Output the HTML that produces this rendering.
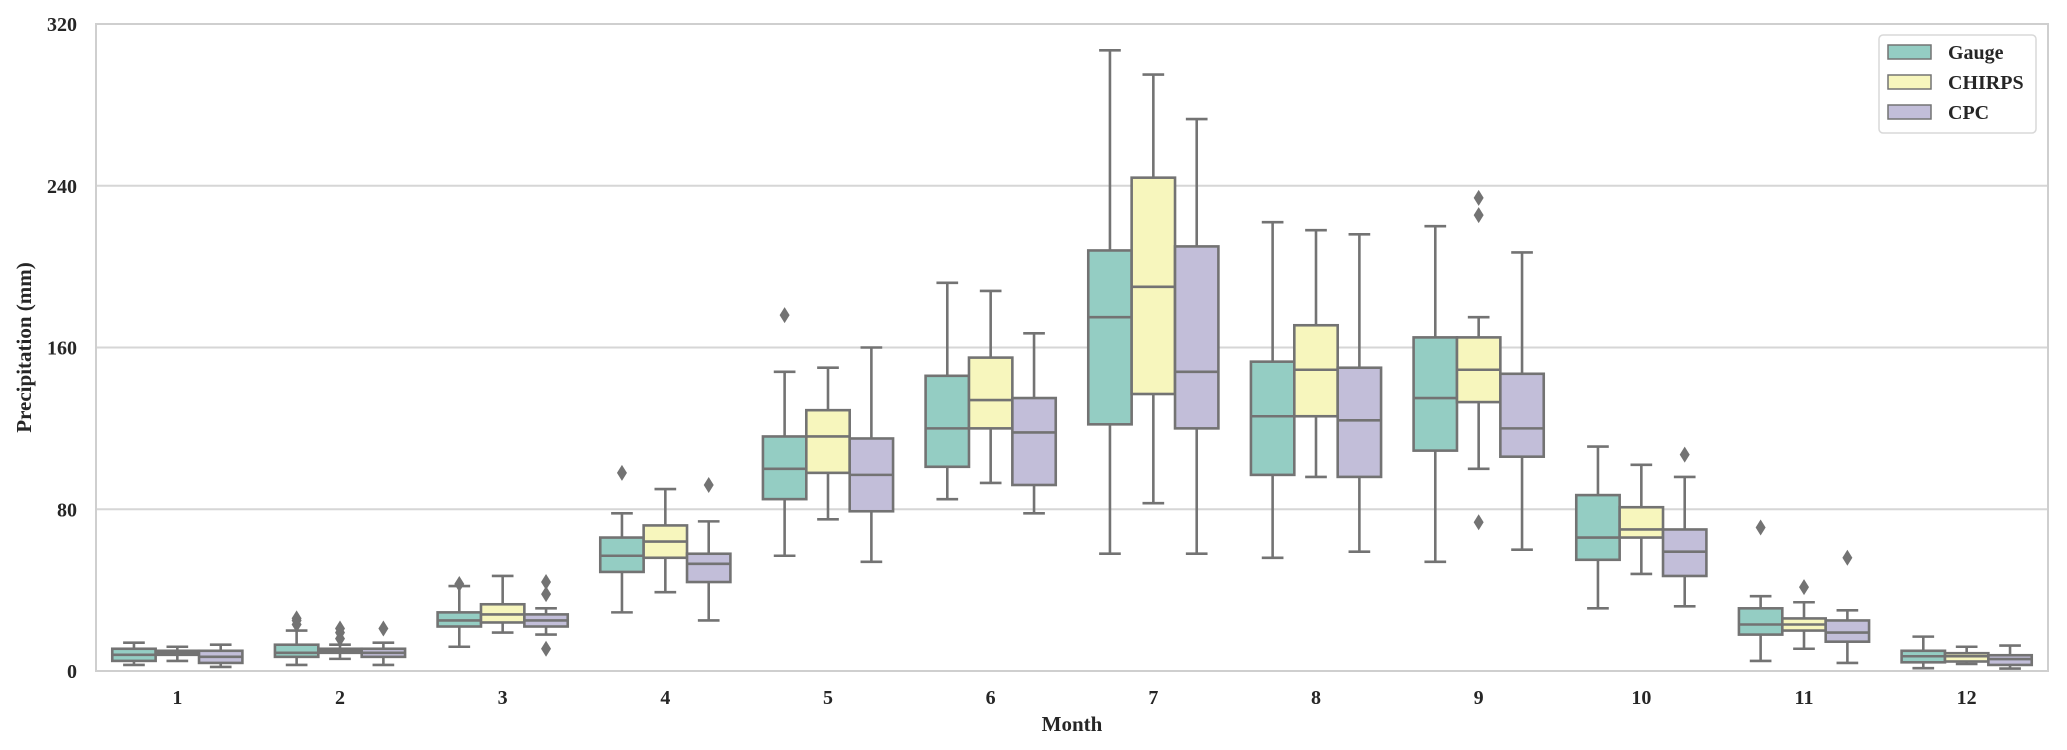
<!DOCTYPE html>
<html><head><meta charset="utf-8"><style>
html,body{margin:0;padding:0;background:#fff;}
svg{display:block;font-family:"Liberation Serif",serif;font-weight:bold;}
</style></head><body>
<svg id="chart" width="2067" height="750" viewBox="0 0 2067 750" xmlns="http://www.w3.org/2000/svg"></svg>
<script>
const months = ['1','2','3','4','5','6','7','8','9','10','11','12'];
const seriesNames = ['Gauge','CHIRPS','CPC'];
const yTicks = [0,80,160,240,320];
// [low whisker, q1, median, q3, high whisker] per month
const gaugeStats = [[3,5,8,11,14],[3,7,9,13,20],[12,22,25,29,42],[29,49,57,66,78],[57,85,100,116,148],[85,101,120,146,192],[58,122,175,208,307],[56,97,126,153,222],[54,109,135,165,220],[31,55,66,87,111],[5,18,23,31,37],[1.4,4.3,7.3,10,17]];
const chirpsStats = [[5,8,9,10,12],[6,9,10,11,13],[19,24,28,33,47],[39,56,64,72,90],[75,98,116,129,150],[93,120,134,155,188],[83,137,190,244,295],[96,126,149,171,218],[100,133,149,165,175],[48,66,70,81,102],[11,20,23,26,34],[3.5,4.7,7.3,8.8,12]];
const cpcStats = [[2,4,7,10,13],[3,7,9,11,14],[18,22,25,28,31],[25,44,53,58,74],[54,79,97,115,160],[78,92,118,135,167],[58,120,148,210,273],[59,96,124,150,216],[60,106,120,147,207],[32,47,59,70,96],[4,14.5,19,25,30],[1.2,3,5.9,7.8,12.6]];
const gaugeOutliers = [[],[23,25,26],[43],[98],[176],[],[],[],[],[],[71],[]];
const chirpsOutliers = [[],[16,19,21],[],[],[],[],[],[],[234,225.5,73.6],[],[41.5],[]];
const cpcOutliers = [[],[21],[44,38,11],[92],[],[],[],[],[],[107],[56],[]];

const colors = ['#94cdc3','#f7f6bd','#c2bed9'];
const edge = '#737373';
const L=96,R=2048,T=24,B=671;
const svg=document.getElementById('chart');
const NS='http://www.w3.org/2000/svg';
function y(v){return B-(v/320)*(B-T);}
const bandW=(R-L)/months.length;
function xc(i){return L+bandW*(i+0.5);}
function mk(tag,attrs,parent){const e=document.createElementNS(NS,tag);for(const k in attrs)e.setAttribute(k,attrs[k]);(parent||svg).appendChild(e);return e;}

yTicks.forEach(t=>{
  const g=mk('line',{x1:L,x2:R,y1:y(t),y2:y(t),stroke:'#d6d6d6','stroke-width':2});
  
  
  const lb=mk('text',{x:77,y:y(t)+7,'text-anchor':'end','font-size':20,fill:'#262626'});
  lb.textContent=t;
  
  
});
const frame=mk('rect',{x:L,y:T,width:R-L,height:B-T,fill:'none',stroke:'#cfcfcf','stroke-width':2});



months.forEach((m,i)=>{
  const t=mk('text',{x:xc(i),y:704,'text-anchor':'middle','font-size':20,fill:'#262626'});
  t.textContent=m;
  
  
});

const allStats=[gaugeStats,chirpsStats,cpcStats];
const allOut=[gaugeOutliers,chirpsOutliers,cpcOutliers];
const boxW=bandW*0.8/3;
months.forEach((m,i)=>{
  allStats.forEach((st,s)=>{
    const [lo,q1,md,q3,hi]=st[i];
    const cx=xc(i)-bandW*0.4+boxW*(s+0.5);
    const g=mk('g',{});
    
    
    const cap=boxW*0.5;
    mk('line',{x1:cx,x2:cx,y1:y(q3),y2:y(hi),stroke:edge,'stroke-width':2.6},g);
    mk('line',{x1:cx,x2:cx,y1:y(q1),y2:y(lo),stroke:edge,'stroke-width':2.6},g);
    mk('line',{x1:cx-cap/2,x2:cx+cap/2,y1:y(hi),y2:y(hi),stroke:edge,'stroke-width':2.6},g);
    mk('line',{x1:cx-cap/2,x2:cx+cap/2,y1:y(lo),y2:y(lo),stroke:edge,'stroke-width':2.6},g);
    mk('rect',{x:cx-boxW/2,y:y(q3),width:boxW,height:Math.max(1,y(q1)-y(q3)),fill:colors[s],stroke:edge,'stroke-width':2.6},g);
    mk('line',{x1:cx-boxW/2,x2:cx+boxW/2,y1:y(md),y2:y(md),stroke:edge,'stroke-width':2.6},g);
    allOut[s][i].forEach(o=>{
      const d=mk('path',{d:`M${cx},${y(o)-8} L${cx+5},${y(o)} L${cx},${y(o)+8} L${cx-5},${y(o)} Z`,fill:edge},g);
      
      
    });
  });
});

const xt=mk('text',{x:(L+R)/2,y:731,'text-anchor':'middle','font-size':21,fill:'#262626'});
xt.textContent='Month';


const yt=mk('text',{x:0,y:0,'text-anchor':'middle','font-size':21,fill:'#262626',transform:`translate(31,${(T+B)/2}) rotate(-90)`});
yt.textContent='Precipitation (mm)';



const lg=mk('g',{});


mk('rect',{x:1879,y:35,width:157,height:98,rx:4,fill:'#fff',stroke:'#d8d8d8','stroke-width':1.5},lg);
seriesNames.forEach((n,s)=>{
  const ey=52+s*30;
  const e=mk('g',{},lg);
  
  
  mk('rect',{x:1888,y:ey-7,width:43,height:14,fill:colors[s],stroke:edge,'stroke-width':1.5},e);
  const t=mk('text',{x:1948,y:ey+7,'font-size':20,fill:'#262626'},e);
  t.textContent=n;
});
</script>
</body></html>
